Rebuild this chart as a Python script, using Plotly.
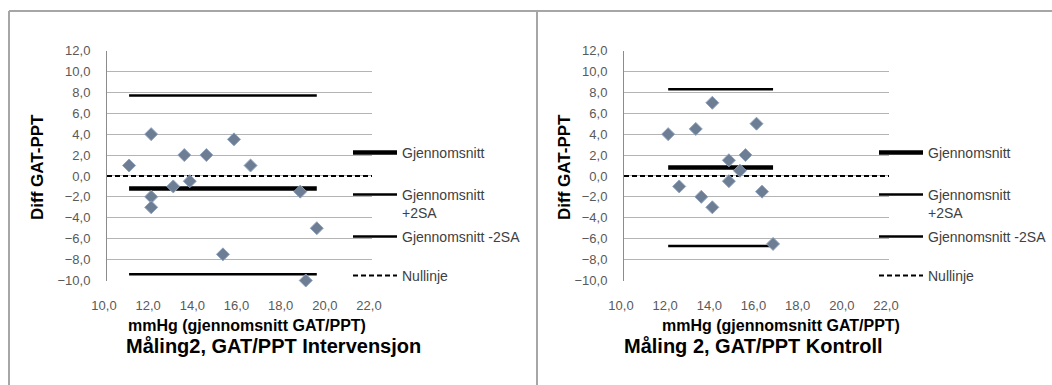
import plotly.graph_objects as go

# ---------------- data ----------------
# Left chart: Måling2, GAT/PPT Intervensjon
int_mean_x = [11.0, 12.0, 12.0, 12.0, 13.0, 13.5, 13.75, 14.5, 15.25, 15.75, 16.5, 18.75, 19.5, 19.0]
int_diff = [1.0, 4.0, -2.0, -3.0, -1.0, 2.0, -0.5, 2.0, -7.5, 3.5, 1.0, -1.5, -5.0, -10.0]
int_line_x = [11.0, 19.5]
int_avg = [-1.2, -1.2]
int_upper = [7.7, 7.7]
int_lower = [-9.4, -9.4]

# Right chart: Måling 2, GAT/PPT Kontroll
kon_mean_x = [12.0, 12.5, 13.25, 13.5, 14.0, 14.0, 14.75, 14.75, 15.25, 15.5, 16.0, 16.25, 16.75]
kon_diff = [4.0, -1.0, 4.5, -2.0, 7.0, -3.0, 1.5, -0.5, 0.5, 2.0, 5.0, -1.5, -6.5]
kon_line_x = [12.0, 16.75]
kon_avg = [0.8, 0.8]
kon_upper = [8.3, 8.3]
kon_lower = [-6.7, -6.7]

null_x = [10.0, 22.0]
null_y = [0.0, 0.0]

legend_names = ["Gjennomsnitt", "Gjennomsnitt<br>+2SA", "Gjennomsnitt -2SA", "Nullinje"]
x_tick_vals = [10, 12, 14, 16, 18, 20, 22]
y_tick_vals = [-10, -8, -6, -4, -2, 0, 2, 4, 6, 8, 10, 12]
x_title = "mmHg (gjennomsnitt GAT/PPT)"
y_title = "Diff GAT-PPT"
titles = ["Måling2, GAT/PPT Intervensjon", "Måling 2, GAT/PPT Kontroll"]

# ---------------- styling ----------------
FONT = "Liberation Sans, Arial, sans-serif"
W, H = 1052, 385
MARKER = dict(symbol="diamond", size=10, color="#6d7d93", line=dict(color="#8fa3bf", width=1))
GRID = "#b4b4b4"
LEG_ROWS = [153, 195, 237, 276]      # pixel rows of the legend samples
LEG_OFF = 16                          # legend top -> sample line offset

fig = go.Figure()

def add_panel(xs, ys, lx, avg, up, lo, xa, ya, legs):
    styles = [dict(width=4.5), dict(width=2.5), dict(width=2.5), dict(width=2, dash="5px,3px")]
    series = [(lx, avg), (lx, up), (lx, lo), (null_x, null_y)]
    for k in [3, 1, 2, 0]:
        sx, sy = series[k]
        fig.add_trace(go.Scatter(x=sx, y=sy, mode="lines", name=legend_names[k],
                                 line=dict(color="black", **styles[k]),
                                 xaxis=xa, yaxis=ya, legend=legs[k]))
    fig.add_trace(go.Scatter(x=xs, y=ys, mode="markers", marker=MARKER, showlegend=False,
                             cliponaxis=False, xaxis=xa, yaxis=ya))

add_panel(int_mean_x, int_diff, int_line_x, int_avg, int_upper, int_lower, "x", "y",
          ["legend", "legend2", "legend3", "legend4"])
add_panel(kon_mean_x, kon_diff, kon_line_x, kon_avg, kon_upper, kon_lower, "x2", "y2",
          ["legend5", "legend6", "legend7", "legend8"])

ydom = [1 - 280.5 / H, 1 - 50.5 / H]
xdoms = [[107 / W, 372 / W], [624 / W, 889 / W]]

def xaxis(dom, anchor):
    return dict(domain=dom, anchor=anchor, range=[10, 22], tickvals=x_tick_vals, tickformat=".1f",
                showgrid=False, zeroline=False, showline=False, ticks="", automargin=False,
                tickfont=dict(family=FONT, size=13, color="#595959"), ticklabelstandoff=15,
                ticklabelshift=-3, fixedrange=True)

def yaxis(anchor):
    return dict(domain=ydom, anchor=anchor, range=[-10, 12], tickvals=y_tick_vals, tickformat=".1f",
                showgrid=True, gridcolor=GRID, gridwidth=1, zeroline=False, automargin=False,
                showline=True, linecolor="#8c8c8c", linewidth=1, ticks="",
                tickfont=dict(family=FONT, size=13, color="#595959"), ticklabelstandoff=13,
                fixedrange=True)

leg_common = dict(font=dict(family=FONT, size=14, color="#404040"), bgcolor="rgba(0,0,0,0)",
                  borderwidth=0, itemwidth=44, valign="top",
                  xanchor="left", yanchor="top", itemclick=False, itemdoubleclick=False)

legends = {}
names = ["legend", "legend2", "legend3", "legend4", "legend5", "legend6", "legend7", "legend8"]
for i, nm in enumerate(names):
    lx = 348 if i < 4 else 874
    ly = LEG_ROWS[i % 4] - LEG_OFF
    legends[nm] = dict(x=lx / W, y=1 - ly / H, **leg_common)

ann = []
for cx in [247, 781]:
    ann.append(dict(text="<b>" + x_title + "</b>", x=cx / W, y=1 - 325 / H, xref="paper", yref="paper",
                    showarrow=False, font=dict(family=FONT, size=16, color="black"),
                    xanchor="center", yanchor="middle"))
for i, cx in enumerate([273, 753]):
    ann.append(dict(text="<b>" + titles[i] + "</b>", x=cx / W, y=1 - 346 / H, xref="paper", yref="paper",
                    showarrow=False, font=dict(family=FONT, size=20, color="black"),
                    xanchor="center", yanchor="middle"))
for cx in [37, 564]:
    ann.append(dict(text="<b>" + y_title + "</b>", x=cx / W, y=1 - 167 / H, xref="paper", yref="paper",
                    showarrow=False, textangle=-90, font=dict(family=FONT, size=17, color="black"),
                    xanchor="center", yanchor="middle"))

border = dict(color="#a6a6a6", width=2)
shapes = [
    dict(type="line", xref="paper", yref="paper", x0=9 / W, x1=1, y0=1 - 11 / H, y1=1 - 11 / H, line=border),
    dict(type="line", xref="paper", yref="paper", x0=9 / W, x1=9 / W, y0=0, y1=1 - 11 / H, line=border),
    dict(type="line", xref="paper", yref="paper", x0=537 / W, x1=537 / W, y0=0, y1=1 - 11 / H, line=border),
]

fig.update_layout(
    width=W, height=H, margin=dict(l=0, r=0, t=0, b=0, autoexpand=False),
    paper_bgcolor="white", plot_bgcolor="white", separators=", ",
    xaxis=xaxis(xdoms[0], "y"), yaxis=yaxis("x"),
    xaxis2=xaxis(xdoms[1], "y2"), yaxis2=yaxis("x2"),
    annotations=ann, shapes=shapes, showlegend=True,
    font=dict(family=FONT),
    **legends,
)

fig.write_html("out.html")
